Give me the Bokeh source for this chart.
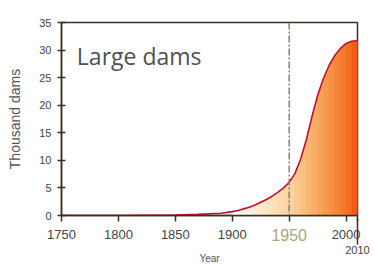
from bokeh.plotting import figure
from bokeh.models import Span, Label, FixedTicker, LinearAxis
from bokeh.embed import file_html
from bokeh.resources import INLINE

# Data: cumulative number of large dams (thousands)
years = [1750, 1800, 1850, 1870, 1890, 1900, 1905, 1910, 1915, 1920, 1925, 1930,
         1935, 1940, 1945, 1950, 1955, 1960, 1965, 1970, 1975, 1980, 1985, 1990,
         1995, 2000, 2005, 2010]
dams = [0.0, 0.0, 0.1, 0.2, 0.4, 0.7, 0.9, 1.2, 1.5, 1.9, 2.4, 2.9,
        3.5, 4.2, 5.0, 6.0, 7.6, 10.2, 13.7, 17.9, 21.8, 24.8, 27.2, 29.0,
        30.3, 31.2, 31.6, 31.7]
x_ticks = [1750, 1800, 1850, 1900, 1950, 2000, 2010]
x_tick_labels = ["1750", "1800", "1850", "1900", "1950", "2000", "2010"]
y_ticks = [0, 5, 10, 15, 20, 25, 30, 35]
title_text = "Large dams"
x_title = "Year"
y_title = "Thousand dams"
marker_year = 1950
end_year = 2010

FONT = "Liberation Sans"
DARK = "#3a3020"

p = figure(width=374, height=266, x_range=(1750, 2010), y_range=(0, 35),
           output_backend="svg", toolbar_location=None,
           min_border_left=61, min_border_right=17, min_border_top=22, min_border_bottom=49)
p.grid.visible = False
p.background_fill_color = "white"
p.border_fill_color = "white"
p.outline_line_color = DARK
p.outline_line_width = 1.5

# gradient fill by strips
stops = [(1900, (255, 255, 255)), (1950, (252, 214, 160)), (1975, (248, 168, 96)),
         (2000, (244, 118, 40)), (2010, (238, 84, 10))]

def col(yr):
    if yr <= stops[0][0]:
        c = stops[0][1]
    else:
        c = stops[-1][1]
        for (a, ca), (b, cb) in zip(stops[:-1], stops[1:]):
            if a <= yr <= b:
                t = (yr - a) / (b - a)
                c = tuple(int(round(ca[k] + (cb[k] - ca[k]) * t)) for k in range(3))
                break
    return "#%02x%02x%02x" % c

xs, ys, cs = [], [], []
for i in range(len(years) - 1):
    if years[i] < 1900:
        continue
    xs.append([years[i], years[i], years[i + 1], years[i + 1]])
    ys.append([0, dams[i], dams[i + 1], 0])
    cs.append(col(0.5 * (years[i] + years[i + 1])))
p.patches(xs, ys, fill_color=cs, line_color=cs, line_width=0.8)

p.line(years, dams, line_color="#c8102e", line_width=1.6)

p.add_layout(Span(location=marker_year, dimension="height", line_color="#8a8070",
                  line_width=1.5, line_dash="7 2 2 2"))

p.add_layout(Label(x=1763.5, y=28.9, text=title_text, text_font="Open Sans",
                   text_font_size="23px", text_color="#505050", text_baseline="alphabetic"))

def plain(axis):
    axis.minor_tick_line_color = None
    axis.major_label_text_font = FONT
    axis.axis_label_text_font = FONT
    axis.axis_label_text_font_style = "normal"

# Axis A: all ticks, regular labels
ax = p.xaxis[0]
plain(ax)
ax.ticker = FixedTicker(ticks=x_ticks)
ax.major_label_overrides = {marker_year: " ", end_year: " "}
ax.axis_line_color = DARK
ax.axis_line_width = 1.5
ax.major_tick_line_color = DARK
ax.major_tick_line_width = 1.5
ax.major_tick_in = 0
ax.major_tick_out = 6
ax.major_label_text_font_size = "13px"
ax.major_label_text_color = "#444444"
ax.major_label_standoff = 5

# Axis B: end year, with the frame edge running down to it, and the axis title
axb = LinearAxis(ticker=FixedTicker(ticks=[end_year]))
plain(axb)
axb.major_label_overrides = {end_year: x_tick_labels[x_ticks.index(end_year)]}
axb.axis_line_color = None
axb.major_tick_line_color = DARK
axb.major_tick_line_width = 1.5
axb.major_tick_in = 26
axb.major_tick_out = 0
axb.major_label_text_font_size = "11px"
axb.major_label_text_color = "#444444"
axb.major_label_standoff = 1
axb.axis_label = x_title
axb.axis_label_text_font_size = "10px"
axb.axis_label_text_color = "#555555"
axb.axis_label_standoff = -4
p.add_layout(axb, "below")

# Axis C: highlighted 1950 label, lifted into the first label row
axc = LinearAxis(ticker=FixedTicker(ticks=[marker_year]))
plain(axc)
axc.major_label_overrides = {marker_year: x_tick_labels[x_ticks.index(marker_year)]}
axc.axis_line_color = None
axc.major_tick_line_color = None
axc.major_tick_in = 0
axc.major_tick_out = 0
axc.major_label_text_font_size = "16px"
axc.major_label_text_color = "#aaa384"
axc.major_label_standoff = -38
p.add_layout(axc, "below")

ay = p.yaxis[0]
plain(ay)
ay.ticker = FixedTicker(ticks=y_ticks)
ay.axis_line_color = DARK
ay.axis_line_width = 1.5
ay.major_tick_line_color = DARK
ay.major_tick_line_width = 1.5
ay.major_tick_in = 4
ay.major_tick_out = 4
ay.major_label_text_font_size = "11px"
ay.major_label_text_color = "#444444"
ay.major_label_standoff = 6
ay.axis_label = y_title
ay.axis_label_text_font_size = "14px"
ay.axis_label_text_color = "#555555"
ay.axis_label_standoff = 13

open("out.html", "w").write(file_html(p, INLINE))
